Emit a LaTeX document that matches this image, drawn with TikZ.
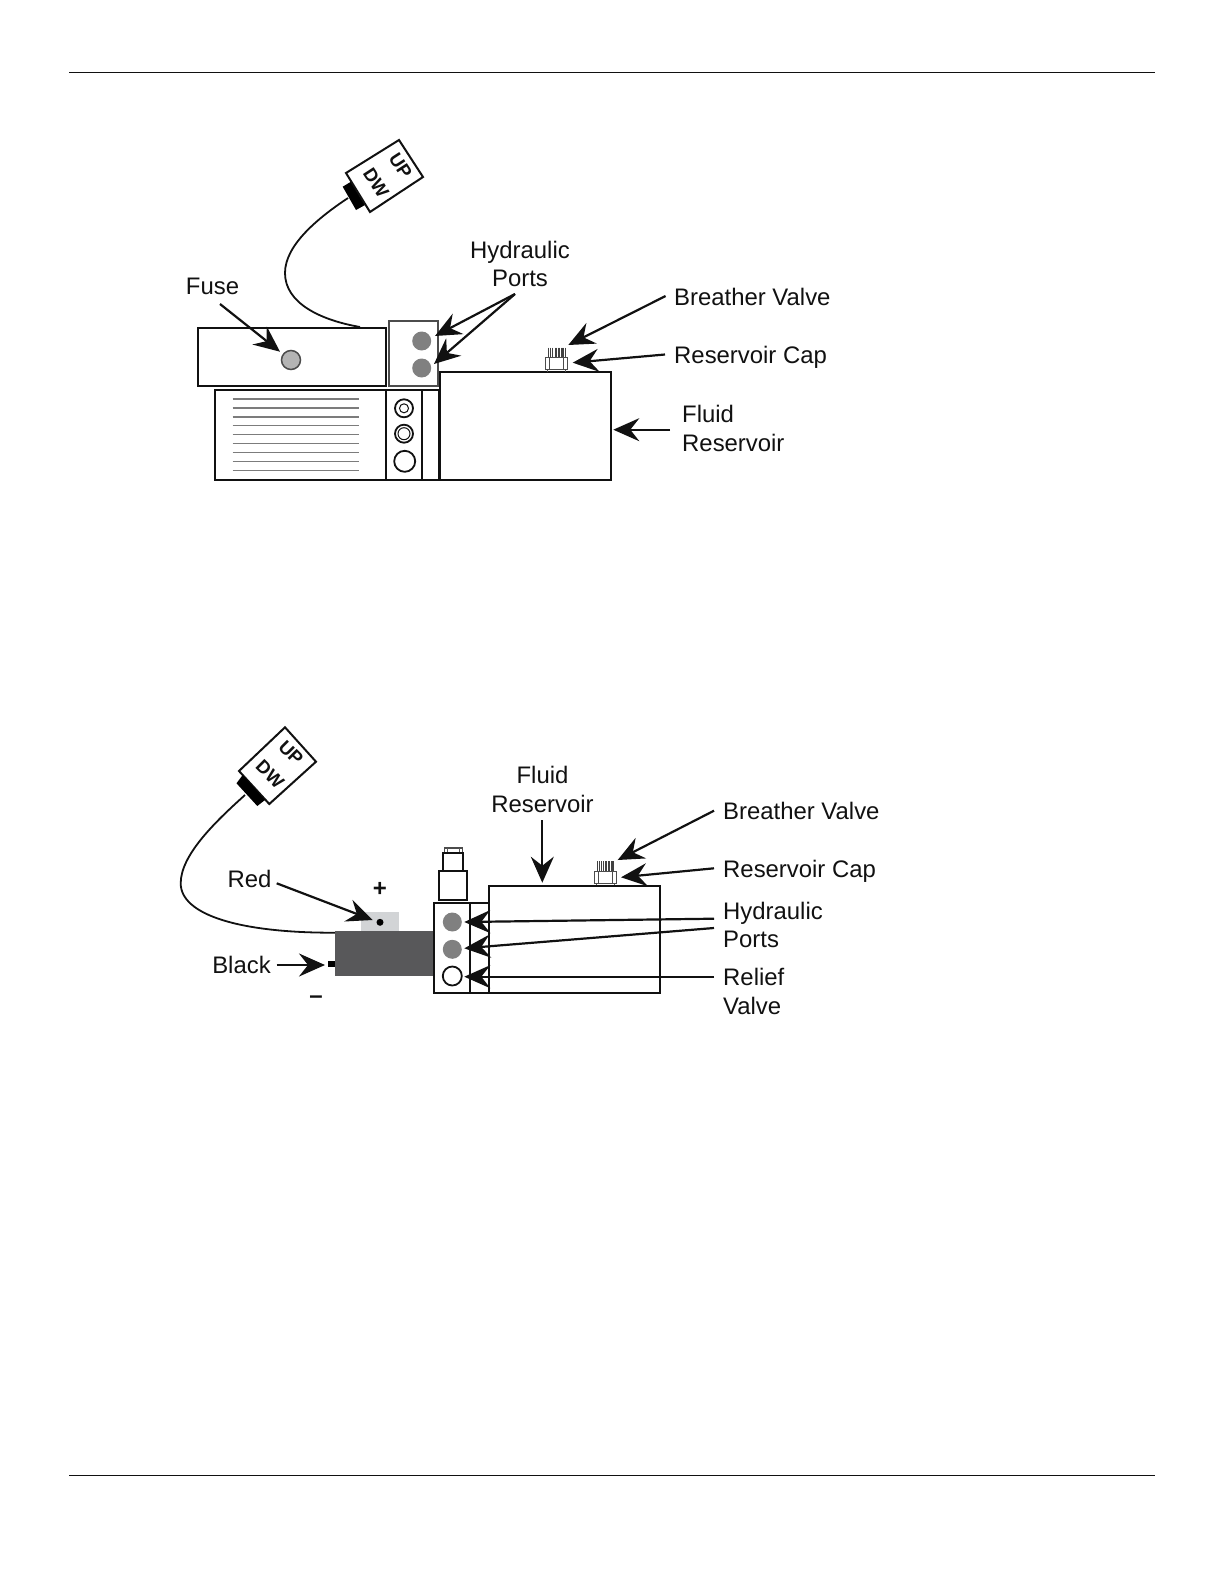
\documentclass[tikz,border=0pt]{standalone}
\usepackage{fontspec}
\setmainfont{Liberation Sans}
\usetikzlibrary{arrows.meta}
\definecolor{ink}{HTML}{111111}
\definecolor{portgray}{HTML}{808080}
\definecolor{fusegray}{HTML}{B4B4B4}
\definecolor{motor}{HTML}{58585A}
\definecolor{terminal}{HTML}{D2D4D6}
\tikzset{
  body/.style={draw=ink,line width=2.2pt,fill=white},
  thinbody/.style={draw=ink!75,line width=1.3pt,fill=white},
  lbl/.style={font=\fontsize{23.9}{28}\selectfont,text=ink,inner sep=0pt,yshift=-6pt},
  lblw/.style={lbl,anchor=mid west},
  lblc/.style={lbl,anchor=mid},
  sw/.style={font=\fontsize{18.5}{20}\selectfont\bfseries,text=ink,inner sep=0pt,anchor=center},
  arr/.style={draw=ink,line width=2.2pt,-{Stealth[length=26pt,width=23pt,inset=9pt]}},
  port/.style={circle,fill=portgray,draw=none,minimum size=19pt,inner sep=0pt},
  ring/.style={circle,draw=ink,line width=1.8pt,fill=white,inner sep=0pt},
  cable/.style={draw=ink,line width=1.8pt},
  capvalve/.pic={
    \foreach \q in {2.8,5,7.2,9.4,11.2,12.6,14,15.4,16.8,18.2,19.6}{\draw[ink!80,line width=1pt] (\q,-10) -- (\q,0);}
    \draw[ink!70,line width=1.2pt] (2,12) -- (2,14) (20,12) -- (20,14);
    \draw[draw=ink!75,line width=1.4pt,fill=white] (0,0) rectangle (22,12);
    \draw[ink!75,line width=1.2pt] (4,0) -- (4,12) (18,0) -- (18,12);
  }
}
\begin{document}
\begin{tikzpicture}[x=1pt,y=-1pt]
\useasboundingbox (0,0) rectangle (1224,1584);
% page rules
\coordinate (rtl) at (69,72.5); \coordinate (rtr) at (1155,72.5);
\coordinate (rbl) at (69,1475); \coordinate (rbr) at (1155,1475);
\draw[ink,line width=1pt] (rtl) -- (rtr);
\draw[ink,line width=1pt] (rbl) -- (rbr);

%% ---------- upper figure ----------
\draw[cable] (348,198) .. controls (318,218) and (285,245) .. (285,273) .. controls (285,303) and (320,320) .. (360,327);
\fill[black] (342.7,186.7) -- (351,181.7) -- (365,205) -- (356,210) -- cycle;
\draw[draw=ink,line width=2pt,fill=white] (346,173) -- (399,140) -- (423,177) -- (370,212) -- cycle;
\node[sw,rotate=-57] (upA) at (400.5,166) {UP};
\node[sw,rotate=-57] (dwA) at (376,183) {DW};

\draw[body] (198,328) rectangle (386,386);
\draw[thinbody] (389,321) rectangle (438,386);
\node[circle,fill=fusegray,draw=ink!75,line width=1.5pt,minimum size=19pt,inner sep=0pt] (fuseA) at (291,360) {};
\node[port] (p1A) at (421.7,341) {};
\node[port] (p2A) at (421.7,368) {};

\draw[body] (215,390) rectangle (439.5,480);
\draw[ink,line width=1.8pt] (386,390) -- (386,480) (421.7,390) -- (421.7,480);
\foreach \k in {0,...,8}{\draw[ink!55,line width=1.2pt] (232.7,399+8.96*\k) -- (358.7,399+8.96*\k);}
\node[ring,minimum size=18pt] (v1A) at (404,408.3) {};
\node[ring,line width=1pt,minimum size=9pt] (v1Ai) at (404,408.3) {};
\node[ring,minimum size=18pt] (v2A) at (404,433.7) {};
\node[ring,line width=1pt,minimum size=12pt] (v2Ai) at (404,433.7) {};
\node[ring,minimum size=21pt] (v3A) at (404.7,461.3) {};

\draw[body] (440,371.7) rectangle (611,480);
\pic at (545.7,357.7) {capvalve};

\node[lblc] (hydA) at (520,249.5) {Hydraulic};
\node[lblc] (prtA) at (520,278) {Ports};
\node[lblc] (fuseL) at (212.5,286) {Fuse};
\node[lblw] (brA) at (674,297) {Breather Valve};
\node[lblw] (rcA) at (674,354.5) {Reservoir Cap};
\node[lblw] (flA) at (682,414) {Fluid};
\node[lblw] (rsA) at (682,442.4) {Reservoir};

\coordinate (sFuse) at (220,304);   \coordinate (tFuse) at (280,351.7);
\coordinate (sPort) at (515,294);   \coordinate (tP1A) at (435,336);  \coordinate (tP2A) at (434,364);
\coordinate (sBrA) at (665.6,296);  \coordinate (tBrA) at (568.3,345);
\coordinate (sRcA) at (665,354.5);  \coordinate (tRcA) at (572.7,362.7);
\coordinate (sFlA) at (670,429.7);  \coordinate (tFlA) at (613.3,429.7);
\draw[arr] (sFuse) -- (tFuse);
\draw[arr] (sPort) -- (tP1A);
\draw[arr] (sPort) -- (tP2A);
\draw[arr] (sBrA) -- (tBrA);
\draw[arr] (sRcA) -- (tRcA);
\draw[arr] (sFlA) -- (tFlA);

%% ---------- lower figure ----------
\draw[cable] (245,795) .. controls (215,822) and (180.7,855) .. (180.7,883.3) .. controls (180.7,915) and (240,933) .. (335,932.7);
\draw[draw=ink,line width=2pt,fill=white] (285,727.3) -- (316,761.7) -- (269.3,804) -- (239,771) -- cycle;
\fill[black] (242.7,775) -- (265,800) -- (257.3,806) -- (236.5,783.3) -- cycle;
\node[sw,rotate=-45] (upB) at (291,753) {UP};
\node[sw,rotate=-45] (dwB) at (270,774) {DW};

\fill[terminal] (361,912) rectangle (399,930.7);
\fill[motor] (335,930.7) rectangle (434,975.7);
\fill[black] (328,960.7) rectangle (335,967.3);
\node[circle,fill=black,minimum size=7pt,inner sep=0pt] (dotB) at (380,922.3) {};

\draw[draw=ink!75,line width=1.2pt,fill=white] (444.7,848) rectangle (462.3,853.3);
\draw[ink!70,line width=1pt] (447.5,848) -- (447.5,853.3) (459.5,848) -- (459.5,853.3);
\draw[body,line width=1.9pt] (443.3,853.3) rectangle (463.3,871.3);
\draw[body,line width=1.9pt] (439.3,871.3) rectangle (466.7,900.3);
\draw[body] (488.7,885.7) rectangle (660,993.3);
\draw[body,line width=1.9pt] (434,903.3) rectangle (488.7,993.3);
\draw[ink,line width=1.9pt] (470,903.3) -- (470,993.3);
\draw[draw=ink,line width=2.2pt] (488.7,885.7) -- (488.7,993.3);
\node[port] (p1B) at (452.3,922) {};
\node[port] (p2B) at (452.3,949.3) {};
\node[ring,minimum size=19pt] (rvB) at (452.3,976) {};
\pic at (594.3,871.3) {capvalve};

\node[lblc] (flB) at (542.5,775) {Fluid};
\node[lblc] (rsB) at (542.5,804) {Reservoir};
\node[lblw] (brB) at (723,811) {Breather Valve};
\node[lblw] (rcB) at (723,868.6) {Reservoir Cap};
\node[lblw] (hydB) at (723,911) {Hydraulic};
\node[lblw] (prtB) at (723,939) {Ports};
\node[lblw] (relB) at (723,977) {Relief};
\node[lblw] (valB) at (723,1006) {Valve};
\node[lblc] (redL) at (249.5,878.7) {Red};
\node[lblc] (blkL) at (241.5,964.5) {Black};
\node[lblc,font=\fontsize{24}{28}\selectfont\bfseries] (plusL) at (380,888) {+};
\node[lblc,font=\fontsize{24}{28}\selectfont\bfseries] (minusL) at (316,995) {\textendash};

\coordinate (sFlB) at (542.3,820);  \coordinate (tFlB) at (542.3,882.7);
\coordinate (sBrB) at (714,810.7);  \coordinate (tBrB) at (617.7,860);
\coordinate (sRcB) at (714,868.3);  \coordinate (tRcB) at (621,877.3);
\coordinate (sP1B) at (714,918.7);  \coordinate (tP1B) at (464.3,922);
\coordinate (sP2B) at (714,928);    \coordinate (tP2B) at (464.3,948.3);
\coordinate (sRvB) at (714,976.7);  \coordinate (tRvB) at (464.3,976.7);
\coordinate (sRed) at (276.7,883.3);\coordinate (tRed) at (372.7,920);
\coordinate (sBlk) at (276.7,965);  \coordinate (tBlk) at (325,965);
\draw[arr] (sFlB) -- (tFlB);
\draw[arr] (sBrB) -- (tBrB);
\draw[arr] (sRcB) -- (tRcB);
\draw[arr] (sP1B) -- (tP1B);
\draw[arr] (sP2B) -- (tP2B);
\draw[arr] (sRvB) -- (tRvB);
\draw[arr] (sRed) -- (tRed);
\draw[arr] (sBlk) -- (tBlk);
\end{tikzpicture}
\end{document}
